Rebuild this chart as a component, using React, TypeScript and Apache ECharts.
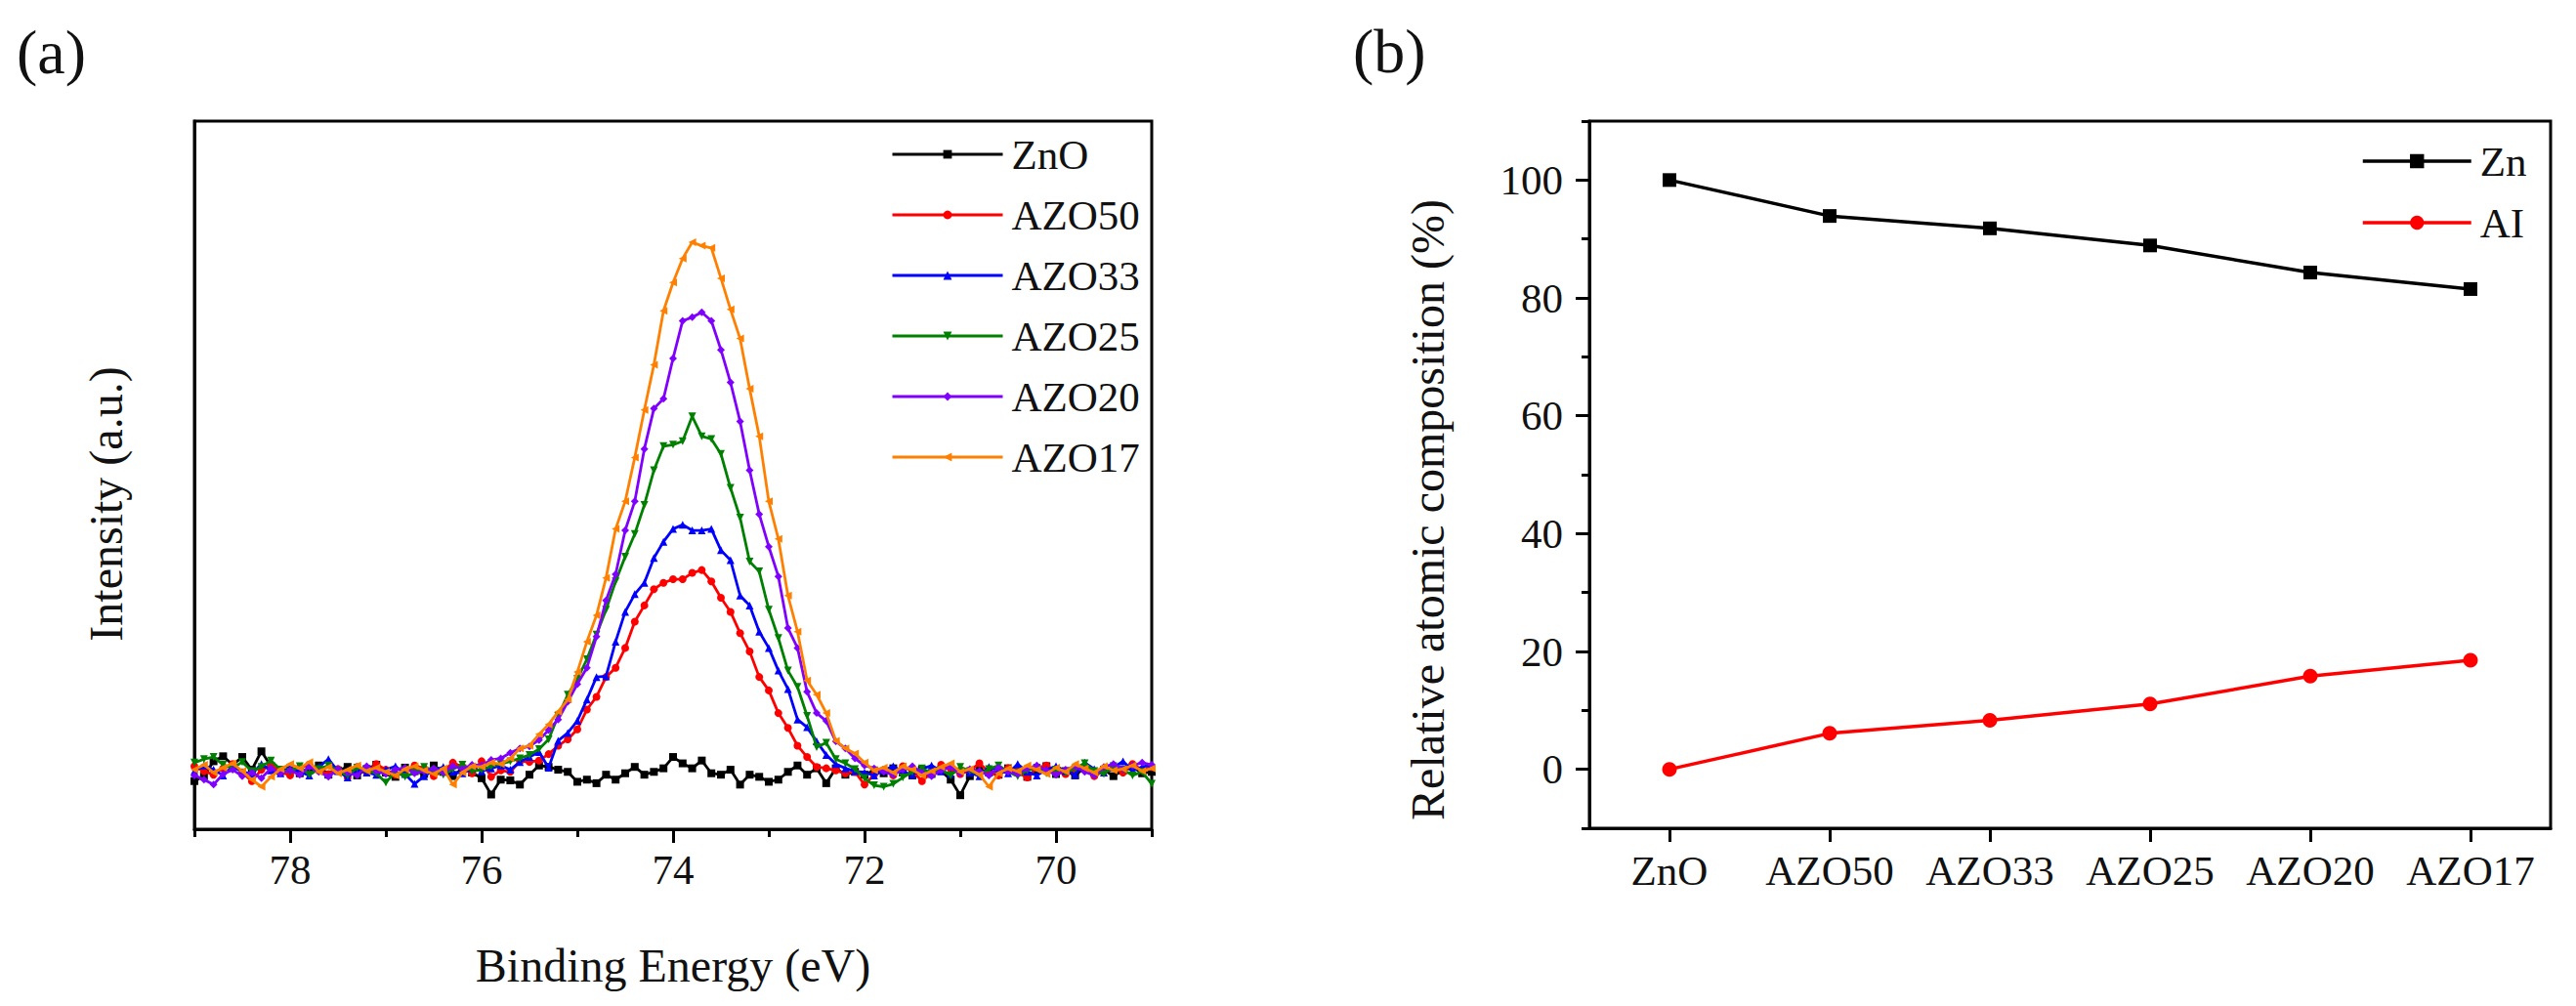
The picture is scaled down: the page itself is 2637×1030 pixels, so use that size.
import React, { useEffect, useRef } from 'react';
import * as echarts from 'echarts';

const FONT = '"Liberation Serif", "Times New Roman", serif';

// Binding energy grid (eV), 79.0 -> 69.0 in 0.1 steps
const energies = [
  79.0, 78.9, 78.8, 78.7, 78.6, 78.5, 78.4, 78.3, 78.2, 78.1,
  78.0, 77.9, 77.8, 77.7, 77.6, 77.5, 77.4, 77.3, 77.2, 77.1,
  77.0, 76.9, 76.8, 76.7, 76.6, 76.5, 76.4, 76.3, 76.2, 76.1,
  76.0, 75.9, 75.8, 75.7, 75.6, 75.5, 75.4, 75.3, 75.2, 75.1,
  75.0, 74.9, 74.8, 74.7, 74.6, 74.5, 74.4, 74.3, 74.2, 74.1,
  74.0, 73.9, 73.8, 73.7, 73.6, 73.5, 73.4, 73.3, 73.2, 73.1,
  73.0, 72.9, 72.8, 72.7, 72.6, 72.5, 72.4, 72.3, 72.2, 72.1,
  72.0, 71.9, 71.8, 71.7, 71.6, 71.5, 71.4, 71.3, 71.2, 71.1,
  71.0, 70.9, 70.8, 70.7, 70.6, 70.5, 70.4, 70.3, 70.2, 70.1,
  70.0, 69.9, 69.8, 69.7, 69.6, 69.5, 69.4, 69.3, 69.2, 69.1,
  69.0,
];

const intensityZnO = [
  6.8, 7.5, 9.6, 10.3, 9.1, 10.2, 8.4, 11.0, 8.9, 8.2,
  8.6, 7.9, 8.4, 9.0, 7.7, 8.3, 8.8, 7.6, 8.5, 9.1,
  8.0, 7.4, 8.7, 8.2, 7.8, 9.0, 8.1, 7.5, 8.6, 8.0,
  7.2, 4.9, 7.0, 6.9, 6.3, 7.7, 9.0, 8.8, 8.4, 8.1,
  6.7, 7.0, 6.5, 7.7, 7.0, 7.9, 8.8, 7.7, 8.1, 8.6,
  10.2, 9.3, 8.6, 9.7, 7.9, 7.7, 8.4, 6.3, 7.7, 7.4,
  6.7, 7.0, 8.1, 9.0, 7.7, 8.6, 6.5, 8.6, 7.7, 8.1,
  7.7, 8.3, 7.9, 8.6, 8.0, 7.6, 8.4, 7.8, 8.2, 7.0,
  4.8, 7.5, 8.4, 8.0, 7.7, 8.6, 8.1, 7.4, 8.3, 8.9,
  7.8, 8.2, 7.6, 8.7, 8.0, 8.4, 7.5, 8.3, 8.8, 7.9,
  8.1,
];

const intensityAZO50 = [
  8.9, 8.2, 7.7, 8.6, 9.2, 8.0, 6.8, 8.4, 9.0, 8.1,
  7.6, 8.7, 9.1, 8.3, 7.8, 8.5, 7.3, 8.8, 8.0, 9.2,
  8.4, 7.7, 8.1, 9.0, 8.6, 7.5, 8.2, 9.4, 8.8, 7.9,
  9.6, 7.4, 8.3, 8.1, 9.6, 9.5, 9.7, 10.6, 11.8, 12.7,
  14.1, 16.9, 18.7, 21.5, 22.8, 25.6, 29.3, 31.6, 33.9, 34.8,
  35.3, 35.3, 36.2, 36.6, 35.0, 32.7, 30.7, 27.7, 25.1, 21.5,
  19.6, 16.4, 14.3, 11.8, 10.2, 8.8, 8.6, 8.3, 7.9, 8.1,
  6.3, 7.7, 8.4, 7.6, 8.9, 8.2, 6.8, 8.0, 9.1, 8.5,
  7.8, 8.3, 9.3, 8.1, 7.6, 8.6, 8.0, 7.3, 8.7, 9.0,
  8.2, 7.8, 8.5, 8.9, 7.5, 8.2, 8.7, 8.0, 9.2, 8.4,
  8.8,
];

const intensityAZO33 = [
  8.2, 9.0, 8.4, 7.6, 8.9, 8.1, 7.8, 9.2, 8.3, 7.9,
  8.7, 8.1, 7.6, 8.8, 9.9, 8.2, 7.3, 8.5, 8.0, 7.7,
  8.4, 8.9, 7.8, 6.4, 7.5, 8.3, 8.8, 8.1, 7.9, 8.6,
  8.2, 8.6, 9.0, 8.4, 9.5, 10.2, 10.9, 8.7, 12.5, 13.6,
  15.3, 18.3, 21.5, 21.6, 26.5, 30.7, 33.2, 34.8, 38.3, 40.6,
  42.4, 43.0, 42.2, 42.2, 42.4, 39.4, 38.0, 33.0, 31.6, 27.9,
  25.6, 22.4, 19.8, 15.5, 14.4, 12.4, 10.5, 9.2, 8.6, 8.2,
  8.0, 7.6, 8.3, 8.9, 8.1, 7.7, 8.5, 9.0, 8.2, 7.8,
  8.6, 8.0, 7.5, 8.8, 8.3, 7.9, 9.2, 8.1, 7.6, 8.4,
  8.9, 8.2, 7.7, 9.4, 8.5, 8.0, 8.7, 9.6, 8.3, 8.8,
  9.1,
];

const intensityAZO25 = [
  9.4, 9.9, 10.2, 9.1, 8.6, 9.5, 8.2, 8.8, 9.7, 8.4,
  8.1, 8.9, 7.7, 8.5, 9.0, 8.2, 7.6, 8.7, 8.3, 7.9,
  6.6, 8.1, 7.4, 8.0, 8.8, 8.3, 7.7, 8.5, 9.1, 8.2,
  8.4, 8.9, 9.2, 9.6, 10.0, 10.5, 11.3, 12.7, 16.0, 19.0,
  21.2, 24.0, 27.5, 31.0, 35.0, 38.5, 41.7, 45.8, 50.7, 54.1,
  54.3, 54.8, 58.3, 55.5, 55.1, 53.0, 48.2, 44.0, 37.8, 36.4,
  31.0, 27.0, 22.4, 20.1, 16.0, 11.6, 12.2, 9.9, 9.3, 8.5,
  7.2, 6.2, 6.0, 6.4, 7.3, 8.1, 8.6, 7.9, 8.4, 7.6,
  8.8, 8.2, 7.7, 8.5, 9.0, 8.1, 7.5, 8.3, 8.7, 7.9,
  8.4, 8.0, 8.6, 9.3, 8.2, 7.8, 8.9, 8.4, 7.6, 8.1,
  6.4,
];

const intensityAZO20 = [
  7.6, 7.0, 6.3, 7.8, 8.4, 7.5, 8.0, 7.2, 8.6, 7.9,
  8.3, 7.7, 8.8, 8.1, 7.4, 8.5, 8.0, 7.6, 8.9, 8.2,
  7.8, 8.4, 8.7, 7.9, 8.2, 8.6, 8.0, 8.9, 8.5, 9.1,
  9.0, 9.8, 10.0, 10.8, 11.4, 11.7, 12.6, 14.0, 15.5, 18.0,
  20.5, 22.8, 27.2, 32.3, 36.0, 42.2, 46.3, 53.7, 59.4, 60.8,
  66.5, 71.8, 72.3, 73.0, 71.8, 67.7, 63.1, 57.6, 50.7, 44.5,
  39.9, 35.7, 28.4, 25.6, 19.4, 16.4, 15.3, 12.4, 11.4, 10.0,
  9.0, 8.6, 8.1, 7.7, 8.4, 8.9, 8.0, 7.5, 8.3, 8.8,
  7.9, 8.5, 8.2, 7.6, 8.7, 8.1, 7.8, 8.6, 9.0, 8.3,
  7.7, 8.4, 8.9, 8.1, 7.6, 8.8, 9.2, 8.5, 9.0, 9.4,
  9.1,
];

const intensityAZO17 = [
  8.4, 9.1, 8.0, 8.7, 9.3, 8.2, 7.0, 6.0, 7.4, 8.5,
  9.2, 8.6, 9.5, 8.1, 8.8, 7.9, 8.4, 9.0, 8.2, 8.7,
  8.1, 7.6, 8.5, 8.9, 8.3, 7.8, 8.6, 6.3, 8.0, 8.9,
  8.8, 9.4, 9.2, 10.0, 11.4, 11.8, 13.4, 14.8, 16.6, 18.3,
  22.2, 26.5, 30.2, 35.5, 42.4, 46.3, 52.5, 59.2, 65.6, 73.2,
  77.2, 80.6, 82.9, 82.4, 82.1, 77.8, 73.4, 69.3, 62.2, 55.5,
  46.3, 41.0, 33.0, 27.9, 21.0, 19.0, 16.4, 12.5, 11.4, 10.7,
  9.4, 8.3, 8.7, 8.0, 8.9, 8.4, 7.6, 8.2, 8.8, 9.3,
  8.1, 8.5, 7.7, 6.0, 7.9, 8.6, 8.2, 9.0, 8.4, 7.8,
  8.7, 8.1, 9.2, 8.6, 8.0, 8.9, 8.3, 8.5, 9.0, 8.2,
  8.6,
];

const sampleNames = ['ZnO', 'AZO50', 'AZO33', 'AZO25', 'AZO20', 'AZO17'];
const sampleColors = ['#000000', '#ff0000', '#0000ff', '#008000', '#8000ff', '#ff8000'];
const sampleSymbols = ['rect', 'circle', 'triangle', 'triangle', 'diamond', 'triangle'];
const sampleSymbolRotate = [0, 0, 0, 180, 0, 90];
const sampleIntensities = [
  intensityZnO, intensityAZO50, intensityAZO33, intensityAZO25, intensityAZO20, intensityAZO17,
];

const xMajorTicks = [70, 72, 74, 76, 78];
const xMinorTicks = [69, 71, 73, 75, 77, 79];

// Panel (b)
const categories = ['ZnO', 'AZO50', 'AZO33', 'AZO25', 'AZO20', 'AZO17'];
const znValues = [100, 93.9, 91.8, 88.9, 84.3, 81.5];
const alValues = [0, 6.1, 8.3, 11.1, 15.8, 18.5];
const yMajorTicks = [0, 20, 40, 60, 80, 100];
const yMinorTicks = [-10, 10, 30, 50, 70, 90, 110];

const TEXT = '#111111';
const AXIS_LINE = { show: true, onZero: false, lineStyle: { color: '#000', width: 3 } };

function App() {
  const ref = useRef<HTMLDivElement>(null);

  useEffect(() => {
    if (!ref.current) return;
    const chart = echarts.init(ref.current, null, { renderer: 'svg' });

    const spectraSeries = sampleNames.map((name, k) => ({
      name,
      type: 'line',
      xAxisIndex: 0,
      yAxisIndex: 0,
      data: energies.map((e, i) => [e, sampleIntensities[k][i]]),
      symbol: sampleSymbols[k],
      symbolSize: 8,
      symbolRotate: sampleSymbolRotate[k],
      showAllSymbol: true,
      lineStyle: { color: sampleColors[k], width: 2.8 },
      itemStyle: { color: sampleColors[k] },
      emphasis: { disabled: true },
      z: 2 + k,
    }));

    const option: any = {
      animation: false,
      backgroundColor: '#ffffff',
      textStyle: { fontFamily: FONT },
      grid: [
        { left: 199, top: 124, width: 980, height: 725, show: true, borderColor: '#000', borderWidth: 3, backgroundColor: 'transparent' },
        { left: 1627, top: 124, width: 984, height: 724, show: true, borderColor: '#000', borderWidth: 3, backgroundColor: 'transparent' },
      ],
      xAxis: [
        {
          gridIndex: 0, type: 'value', min: 69, max: 79, inverse: true,
          axisLine: AXIS_LINE,
          axisTick: { show: true, customValues: xMajorTicks, length: 14, lineStyle: { color: '#000', width: 3 } },
          axisLabel: { customValues: xMajorTicks, fontSize: 43, fontFamily: FONT, color: TEXT, margin: 20 },
          splitLine: { show: false },
        },
        {
          gridIndex: 0, type: 'value', min: 69, max: 79, inverse: true, position: 'bottom',
          axisLine: { show: false, onZero: false },
          axisTick: { show: true, customValues: xMinorTicks, length: 8, lineStyle: { color: '#000', width: 3 } },
          axisLabel: { show: false },
          splitLine: { show: false },
        },
        {
          gridIndex: 1, type: 'category', data: categories, boundaryGap: true,
          axisLine: AXIS_LINE,
          axisTick: { show: true, alignWithLabel: true, length: 14, lineStyle: { color: '#000', width: 3 } },
          axisLabel: { fontSize: 43, fontFamily: FONT, color: TEXT, margin: 22, interval: 0 },
          splitLine: { show: false },
        },
      ],
      yAxis: [
        {
          gridIndex: 0, type: 'value', min: 0, max: 100,
          axisLine: AXIS_LINE,
          axisTick: { show: false },
          axisLabel: { show: false },
          splitLine: { show: false },
        },
        {
          gridIndex: 1, type: 'value', min: -10, max: 110, interval: 10,
          axisLine: AXIS_LINE,
          axisTick: { show: true, customValues: yMajorTicks, length: 14, lineStyle: { color: '#000', width: 3 } },
          axisLabel: { customValues: yMajorTicks, fontSize: 43, fontFamily: FONT, color: TEXT, margin: 27 },
          splitLine: { show: false },
        },
        {
          gridIndex: 1, type: 'value', min: -10, max: 110, interval: 10, position: 'left',
          axisLine: { show: false, onZero: false },
          axisTick: { show: true, customValues: yMinorTicks, length: 8, lineStyle: { color: '#000', width: 3 } },
          axisLabel: { show: false },
          splitLine: { show: false },
        },
      ],
      legend: [
        {
          data: sampleNames,
          orient: 'vertical',
          left: 912,
          top: 136,
          padding: 0,
          itemWidth: 113,
          itemHeight: 11,
          itemGap: 18,
          selectedMode: false,
          lineStyle: { width: 3 },
          textStyle: { fontSize: 43, fontFamily: FONT, color: TEXT, lineHeight: 44, padding: [0, 0, 0, 4] },
        },
        {
          data: ['Zn', 'AI'],
          orient: 'vertical',
          left: 2417,
          top: 143,
          padding: 0,
          itemWidth: 111,
          itemHeight: 18,
          itemGap: 19,
          selectedMode: false,
          lineStyle: { width: 3.5 },
          textStyle: { fontSize: 43, fontFamily: FONT, color: TEXT, lineHeight: 44, padding: [0, 0, 0, 4] },
        },
      ],
      series: [
        ...spectraSeries,
        {
          name: 'Zn', type: 'line', xAxisIndex: 2, yAxisIndex: 1,
          data: znValues, symbol: 'rect', symbolSize: 14,
          lineStyle: { color: '#000', width: 3.5 }, itemStyle: { color: '#000' },
          emphasis: { disabled: true },
        },
        {
          name: 'AI', type: 'line', xAxisIndex: 2, yAxisIndex: 1,
          data: alValues, symbol: 'circle', symbolSize: 15,
          lineStyle: { color: '#ff0000', width: 3.5 }, itemStyle: { color: '#ff0000' },
          emphasis: { disabled: true },
        },
      ],
      graphic: [
        {
          type: 'text', x: 17, y: 53,
          style: { text: '(a)', font: `64px ${FONT}`, fill: TEXT, align: 'left', verticalAlign: 'middle', textAlign: 'left', textVerticalAlign: 'middle' },
        },
        {
          type: 'text', x: 1385, y: 52,
          style: { text: '(b)', font: `64px ${FONT}`, fill: TEXT, align: 'left', verticalAlign: 'middle', textAlign: 'left', textVerticalAlign: 'middle' },
        },
        {
          type: 'text', x: 108, y: 516, rotation: Math.PI / 2,
          style: { text: 'Intensity (a.u.)', font: `48px ${FONT}`, fill: TEXT, align: 'center', verticalAlign: 'middle', textAlign: 'center', textVerticalAlign: 'middle' },
        },
        {
          type: 'text', x: 689, y: 988,
          style: { text: 'Binding Energy (eV)', font: `48px ${FONT}`, fill: TEXT, align: 'center', verticalAlign: 'middle', textAlign: 'center', textVerticalAlign: 'middle' },
        },
        {
          type: 'text', x: 1461, y: 522, rotation: Math.PI / 2,
          style: { text: 'Relative atomic composition (%)', font: `48px ${FONT}`, fill: TEXT, align: 'center', verticalAlign: 'middle', textAlign: 'center', textVerticalAlign: 'middle' },
        },
      ],
    };

    chart.setOption(option);
    return () => {
      chart.dispose();
    };
  }, []);

  return (
    <div
      ref={ref}
      style={{ position: 'fixed', left: 0, top: 0, width: 2637, height: 1030, background: '#ffffff' }}
    />
  );
}

export default App;
